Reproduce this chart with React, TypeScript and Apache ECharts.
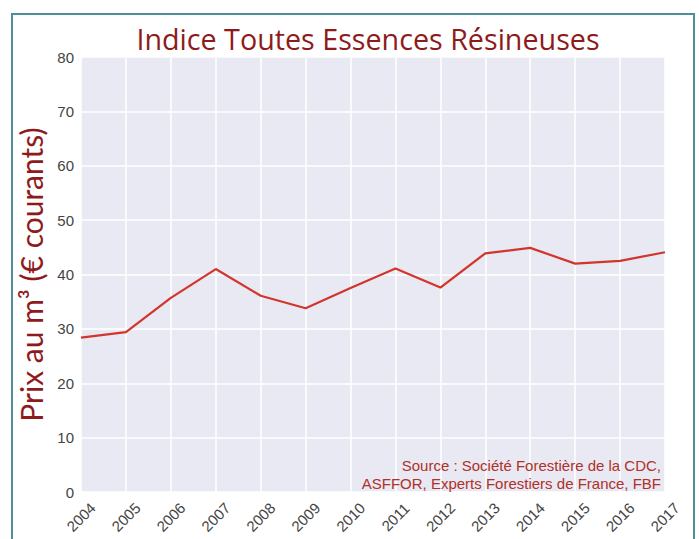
import React, { useEffect, useRef } from "react";
import * as echarts from "echarts";

const years = ["2004","2005","2006","2007","2008","2009","2010","2011","2012","2013","2014","2015","2016","2017"];
const prices = [28.4, 29.4, 35.7, 41.0, 36.1, 33.8, 37.5, 41.1, 37.6, 43.9, 44.9, 42.0, 42.5, 44.1];
const titleText = "Indice Toutes Essences Résineuses";
const yAxisTitle = "Prix au m³ (€ courants)";
const sourceLines = ["Source : Société Forestière de la CDC,", "ASFFOR, Experts Forestiers de France, FBF"];

export default function App() {
  const ref = useRef<HTMLDivElement>(null);
  useEffect(() => {
    if (!ref.current) return;
    const chart = echarts.init(ref.current, undefined, { renderer: "svg" });
    chart.setOption({
      animation: false,
      backgroundColor: "#ffffff",
      grid: {
        left: 81, right: 34, top: 57, bottom: 47,
        show: true, backgroundColor: "#e8e9f2", borderWidth: 0,
      },
      xAxis: {
        type: "category",
        data: years,
        boundaryGap: false,
        axisLine: { show: false },
        axisTick: { show: false },
        axisLabel: {
          rotate: 45, fontSize: 15, color: "#444", fontFamily: "Liberation Sans",
          margin: 25, align: "center", verticalAlign: "middle",
        },
        splitLine: { show: true, lineStyle: { color: "#ffffff", width: 1.5 } },
      },
      yAxis: {
        type: "value",
        min: 0, max: 80, interval: 10,
        axisLine: { show: false },
        axisTick: { show: false },
        axisLabel: { fontSize: 15, color: "#444", fontFamily: "Liberation Sans", margin: 7 },
        splitLine: { show: true, lineStyle: { color: "#ffffff", width: 1.5 } },
        name: yAxisTitle,
        nameLocation: "middle",
        nameRotate: 90,
        nameGap: 33,
        nameTextStyle: { fontSize: 30, color: "#8e1b1b", fontFamily: "Lato" },
      },
      series: [{
        type: "line",
        data: prices,
        symbol: "none",
        lineStyle: { color: "#d2352b", width: 2.2 },
      }],
      graphic: [
        {
          type: "rect", silent: true, z: -1,
          shape: { x: 12, y: 14, width: 682, height: 540 },
          style: { fill: "none", stroke: "#4d8e9b", lineWidth: 2 },
        },
        {
          type: "text", x: 368, y: 38,
          style: { text: titleText, fontSize: 28.7, fill: "#8e1b1b", fontFamily: "Open Sans", textAlign: "center", textVerticalAlign: "middle" },
        },
        {
          type: "text", x: 661, y: 465, z: 10,
          style: { text: sourceLines[0], fontSize: 15, fill: "#b0302a", fontFamily: "Liberation Sans", textAlign: "right", textVerticalAlign: "middle" },
        },
        {
          type: "text", x: 661, y: 483, z: 10,
          style: { text: sourceLines[1], fontSize: 15, fill: "#b0302a", fontFamily: "Liberation Sans", textAlign: "right", textVerticalAlign: "middle" },
        },
      ],
    });
    return () => chart.dispose();
  }, []);
  return <div ref={ref} style={{ position: "absolute", left: 0, top: 0, width: 699, height: 539 }} />;
}
